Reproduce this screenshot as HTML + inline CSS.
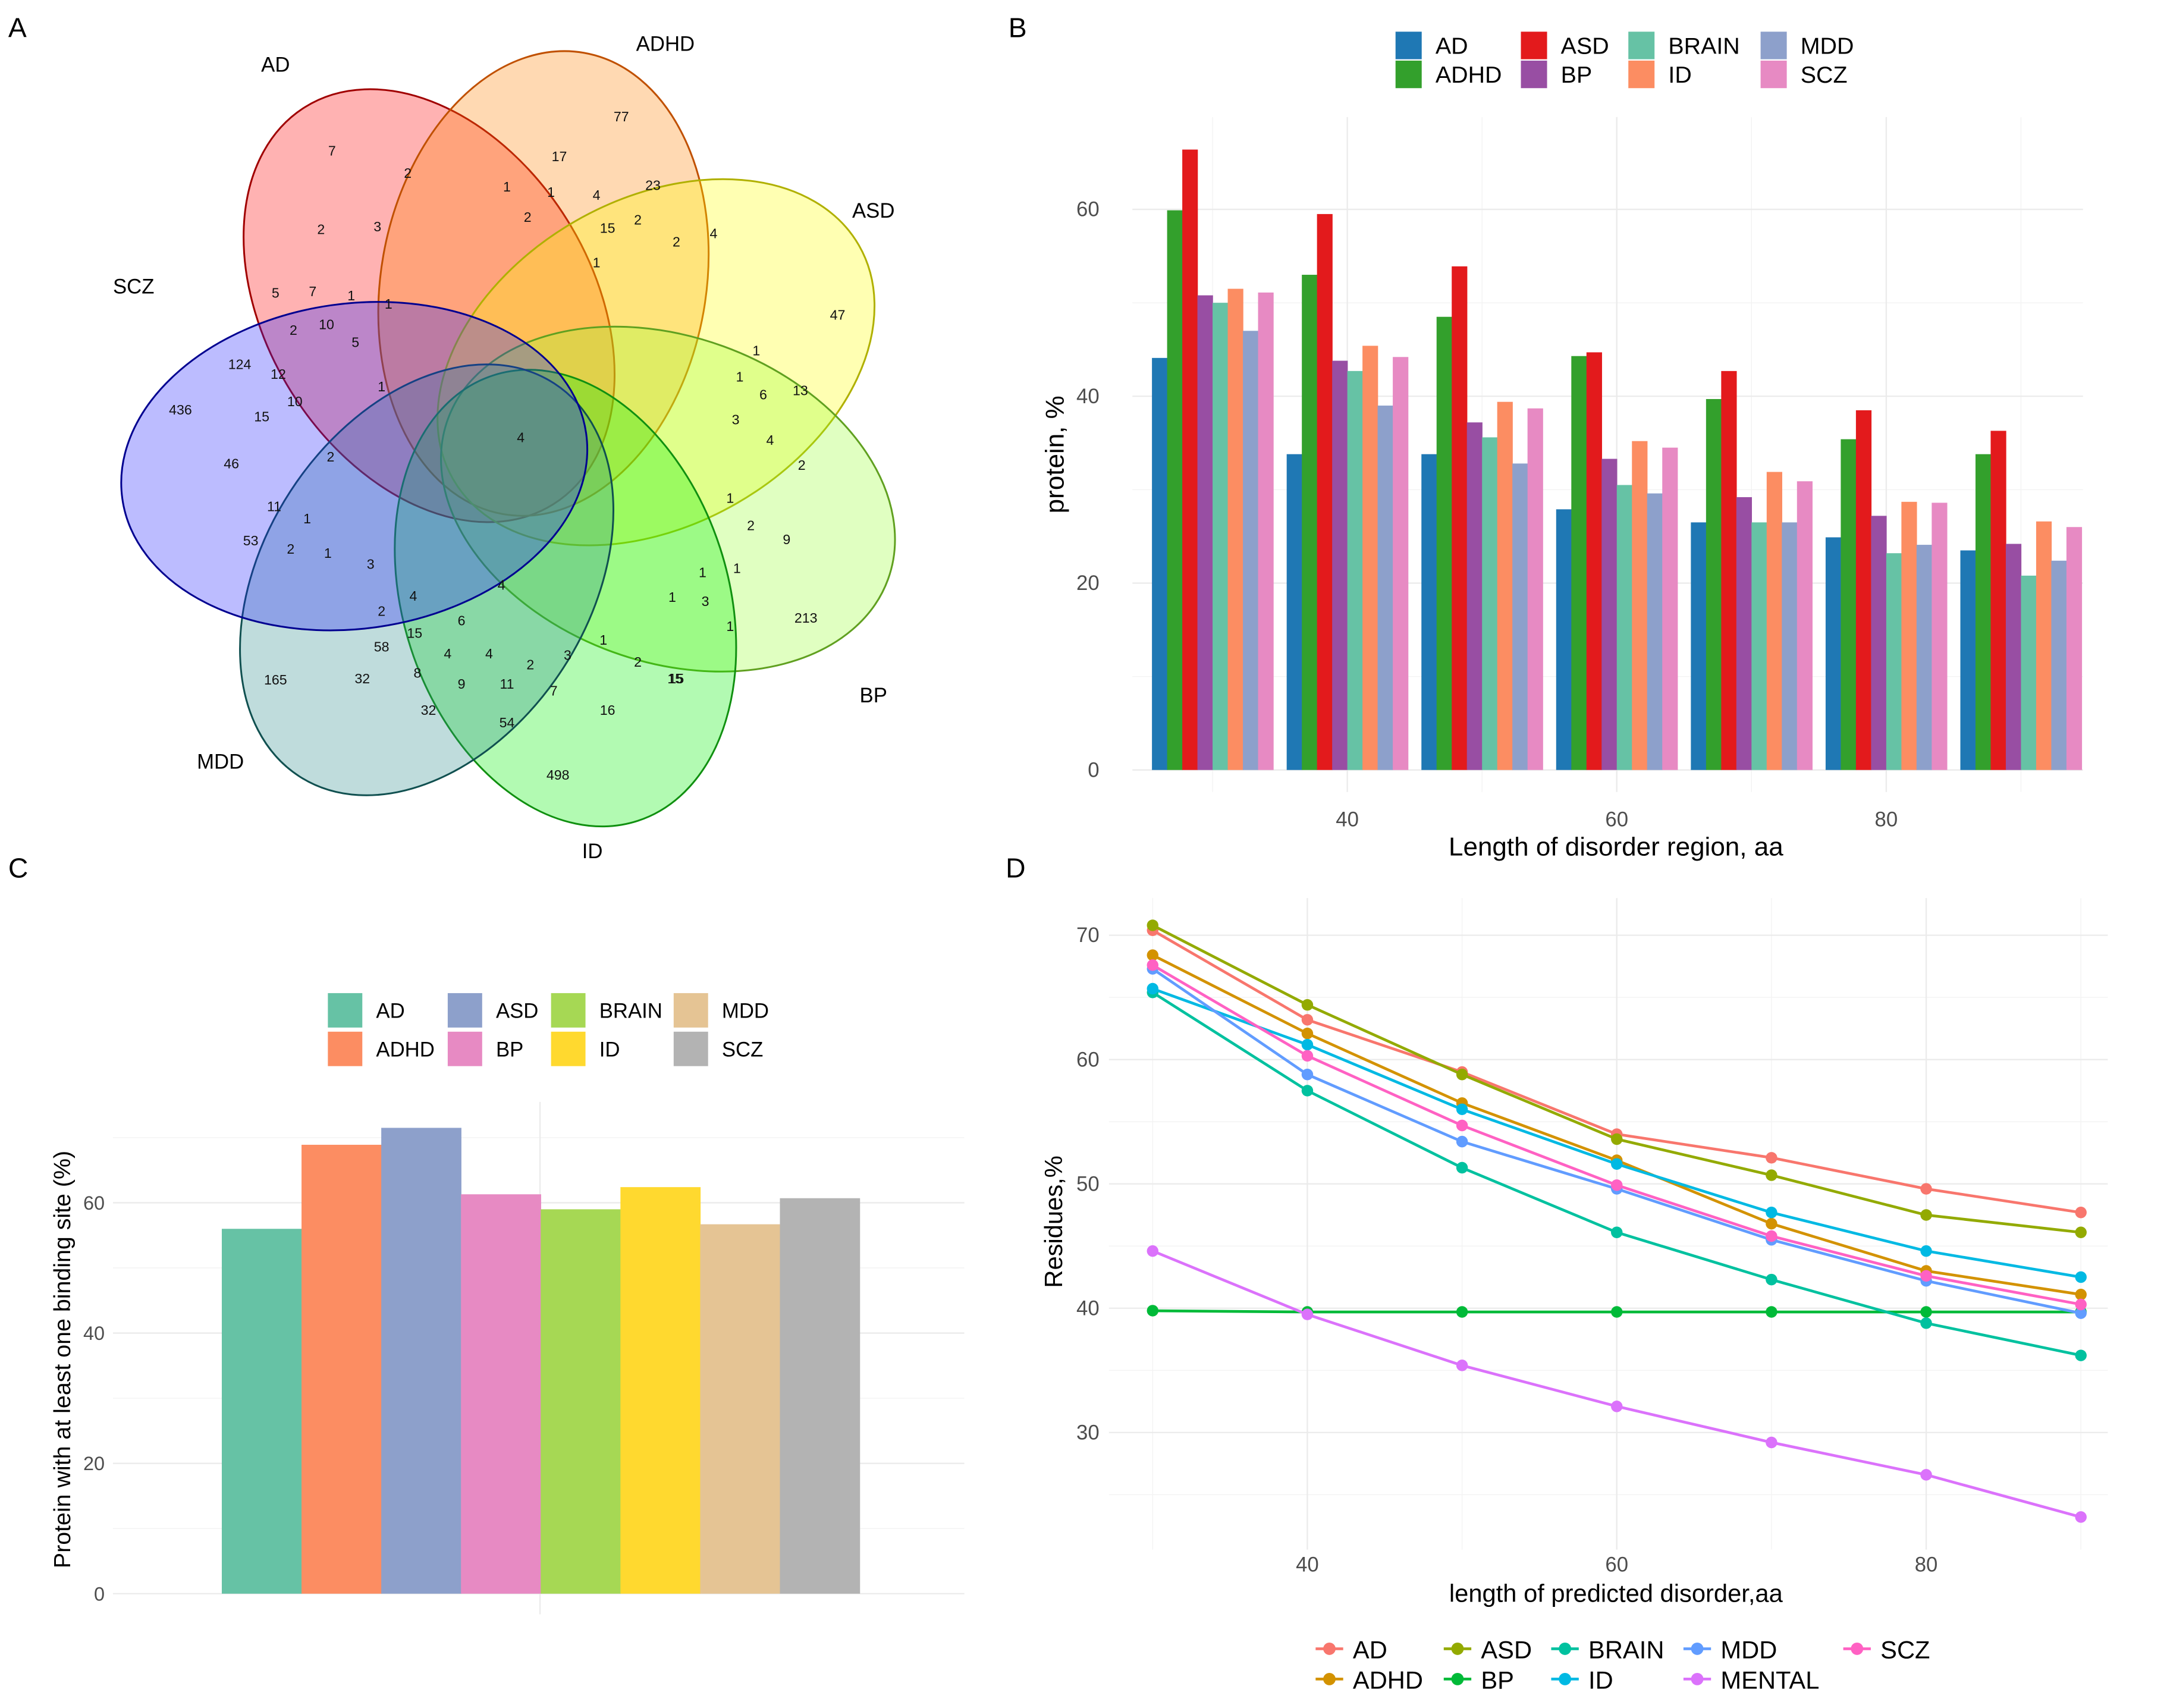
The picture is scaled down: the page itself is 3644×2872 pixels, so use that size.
<!DOCTYPE html>
<html><head><meta charset="utf-8"><style>
html,body{margin:0;padding:0;background:#fff;}
svg{display:block;font-family:"Liberation Sans",sans-serif;}
</style></head><body>
<svg id="fig" width="3644" height="2872" viewBox="0 0 1573 1240" preserveAspectRatio="none" xmlns="http://www.w3.org/2000/svg">
<rect width="1573" height="1240" fill="#fff"/>
<g id="venn"></g>
<g id="pb"></g>
<g id="pc"></g>
<g id="pd"></g>
<text x="6" y="27" font-size="20">A</text>
<text x="732" y="27" font-size="20">B</text>
<text x="6" y="637" font-size="20">C</text>
<text x="730" y="637" font-size="20">D</text>
</svg>
<script>
const NS="http://www.w3.org/2000/svg";
function mk(parent,tag,attrs,txt){const e=document.createElementNS(NS,tag);for(const k in attrs)e.setAttribute(k,attrs[k]);if(txt!==undefined)e.textContent=txt;parent.appendChild(e);return e;}

// ---------- Panel B data ----------
const bCats=[30,40,50,60,70,80,90];
const bSeries=["AD","ADHD","ASD","BP","BRAIN","ID","MDD","SCZ"];
const bAD=[44.1,33.8,33.8,27.9,26.5,24.9,23.5];
const bADHD=[59.9,53.0,48.5,44.3,39.7,35.4,33.8];
const bASD=[66.4,59.5,53.9,44.7,42.7,38.5,36.3];
const bBP=[50.8,43.8,37.2,33.3,29.2,27.2,24.2];
const bBRAIN=[50.0,42.7,35.6,30.5,26.5,23.2,20.8];
const bID=[51.5,45.4,39.4,35.2,31.9,28.7,26.6];
const bMDD=[47.0,39.0,32.8,29.6,26.5,24.1,22.4];
const bSCZ=[51.1,44.2,38.7,34.5,30.9,28.6,26.0];
const bYTicks=[0,20,40,60];
const bXTicks=[40,60,80];

// ---------- Panel C data ----------
const cCats=["AD","ADHD","ASD","BP","BRAIN","ID","MDD","SCZ"];
const cValues=[56.0,68.9,71.5,61.3,59.0,62.4,56.7,60.7];
const cYTicks=[0,20,40,60];

// ---------- Panel D data ----------
const dX=[30,40,50,60,70,80,90];
const dAD=[70.4,63.2,59.0,54.0,52.1,49.6,47.7];
const dADHD=[68.4,62.1,56.5,51.9,46.8,43.0,41.1];
const dASD=[70.8,64.4,58.8,53.6,50.7,47.5,46.1];
const dBP=[39.8,39.7,39.7,39.7,39.7,39.7,39.7];
const dBRAIN=[65.4,57.5,51.3,46.1,42.3,38.8,36.2];
const dID=[65.7,61.2,56.0,51.6,47.7,44.6,42.5];
const dMDD=[67.3,58.8,53.4,49.6,45.5,42.2,39.6];
const dMENTAL=[44.6,39.5,35.4,32.1,29.2,26.6,23.2];
const dSCZ=[67.6,60.3,54.7,49.9,45.8,42.6,40.3];
const dYTicks=[30,40,50,60,70];
const dXTicks=[40,60,80];

// ================= Panel B =================
(function(){
 const g=document.getElementById('pb');
 const bData=[bAD,bADHD,bASD,bBP,bBRAIN,bID,bMDD,bSCZ];
 const cols=["#1f78b4","#33a02c","#e31a1c","#984ea3","#66c2a5","#fc8d62","#8da0cb","#e78ac3"];
 const L=822,R=1512,T=85,B=575;
 const X=v=>978+(v-40)*9.78, Y=v=>559-v*(407/60);
 for(const m of [10,30,50]) mk(g,'line',{x1:L,x2:R,y1:Y(m),y2:Y(m),stroke:'#f3f3f3','stroke-width':0.6});
 for(const m of [30,50,70,90]) mk(g,'line',{x1:X(m),x2:X(m),y1:T,y2:B,stroke:'#f3f3f3','stroke-width':0.6});
 for(const t of bYTicks){mk(g,'line',{x1:L,x2:R,y1:Y(t),y2:Y(t),stroke:'#ebebeb','stroke-width':1});
  const tx=mk(g,'text',{x:798,y:Y(t)+5,'font-size':15,fill:'#4d4d4d','text-anchor':'end'},t);
  
  }
 for(const t of bXTicks){mk(g,'line',{x1:X(t),x2:X(t),y1:T,y2:B,stroke:'#ebebeb','stroke-width':1});
  const tx=mk(g,'text',{x:X(t),y:600,'font-size':15,fill:'#4d4d4d','text-anchor':'middle'},t);
  
  }
 const bw=9*9.78/8;
 bCats.forEach((c,i)=>{bData.forEach((s,j)=>{
  const x0=X(c)-4.5*9.78+j*bw;
  const r=mk(g,'rect',{x:x0,y:Y(s[i]),width:bw+0.3,height:Y(0)-Y(s[i]),fill:cols[j]});
  
  
 });});
 const t1=mk(g,'text',{x:1173,y:621,'font-size':19,fill:'#000','text-anchor':'middle'},'Length of disorder region, aa');
 
 const t2=mk(g,'text',{x:0,y:0,'font-size':19,fill:'#000','text-anchor':'middle',transform:'translate(772,330) rotate(-90)'},'protein, %');
 
 const lx=[1013,1013,1104,1104,1182,1182,1278,1278], ly=[23,44,23,44,23,44,23,44];
 bSeries.forEach((s,j)=>{
  const e=mk(g,'g',{});
  
  
  mk(e,'rect',{x:lx[j],y:ly[j],width:19,height:20,fill:cols[j]});
  mk(e,'text',{x:lx[j]+29,y:ly[j]+16,'font-size':17,fill:'#000'},s);
 });
})();

// ================= Panel C =================
(function(){
 const g=document.getElementById('pc');
 const cols=["#66c2a5","#fc8d62","#8da0cb","#e78ac3","#a6d854","#ffd92f","#e5c494","#b3b3b3"];
 const L=82,R=700,T=800,B=1172;
 const Y=v=>1157-v*4.73;
 for(const m of [10,30,50,70]) mk(g,'line',{x1:L,x2:R,y1:Y(m),y2:Y(m),stroke:'#f3f3f3','stroke-width':0.6});
 for(const t of cYTicks){mk(g,'line',{x1:L,x2:R,y1:Y(t),y2:Y(t),stroke:'#ebebeb','stroke-width':1});
  const tx=mk(g,'text',{x:76,y:Y(t)+5,'font-size':14,fill:'#4d4d4d','text-anchor':'end'},t);
  
  }
 mk(g,'line',{x1:392,x2:392,y1:T,y2:B,stroke:'#ebebeb','stroke-width':1});
 const bw=(624-161)/cCats.length;
 cCats.forEach((c,i)=>{
  const r=mk(g,'rect',{x:161+i*bw,y:Y(cValues[i]),width:bw+0.3,height:Y(0)-Y(cValues[i]),fill:cols[i]});
  
  
 });
 const t2=mk(g,'text',{x:0,y:0,'font-size':17,fill:'#000','text-anchor':'middle',transform:'translate(51,987) rotate(-90)'},'Protein with at least one binding site (%)');
 
 const lx=[238,238,325,325,400,400,489,489], ly=[721,749,721,749,721,749,721,749];
 cCats.forEach((s,j)=>{
  const e=mk(g,'g',{});
  
  
  mk(e,'rect',{x:lx[j],y:ly[j],width:25,height:25,fill:cols[j]});
  mk(e,'text',{x:lx[j]+35,y:ly[j]+18,'font-size':15,fill:'#000'},s);
 });
})();

// ================= Panel D =================
(function(){
 const g=document.getElementById('pd');
 const names=["AD","ADHD","ASD","BP","BRAIN","ID","MDD","MENTAL","SCZ"];
 const data=[dAD,dADHD,dASD,dBP,dBRAIN,dID,dMDD,dMENTAL,dSCZ];
 const cols=["#F8766D","#D39200","#93AA00","#00BA38","#00C19F","#00B9E3","#619CFF","#DB72FB","#FF61C3"];
 const L=805,R=1530,T=652,B=1125;
 const X=v=>949+(v-40)*11.23, Y=v=>679-(v-70)*9.025;
 for(const m of [25,35,45,55,65]) mk(g,'line',{x1:L,x2:R,y1:Y(m),y2:Y(m),stroke:'#f3f3f3','stroke-width':0.6});
 for(const m of [30,50,70,90]) mk(g,'line',{x1:X(m),x2:X(m),y1:T,y2:B,stroke:'#f3f3f3','stroke-width':0.6});
 for(const t of dYTicks){mk(g,'line',{x1:L,x2:R,y1:Y(t),y2:Y(t),stroke:'#ebebeb','stroke-width':1});
  const tx=mk(g,'text',{x:798,y:Y(t)+5,'font-size':15,fill:'#4d4d4d','text-anchor':'end'},t);
  
  }
 for(const t of dXTicks){mk(g,'line',{x1:X(t),x2:X(t),y1:T,y2:B,stroke:'#ebebeb','stroke-width':1});
  const tx=mk(g,'text',{x:X(t),y:1141,'font-size':15,fill:'#4d4d4d','text-anchor':'middle'},t);
  
  }
 data.forEach((s,j)=>{
  const pts=dX.map((x,i)=>X(x).toFixed(1)+','+Y(s[i]).toFixed(1)).join(' ');
  const pl=mk(g,'polyline',{points:pts,fill:'none',stroke:cols[j],'stroke-width':2});
  
  
  dX.forEach((x,i)=>{const c=mk(g,'circle',{cx:X(x),cy:Y(s[i]),r:4.2,fill:cols[j]});
   
   });
 });
 const t1=mk(g,'text',{x:1173,y:1163,'font-size':18,fill:'#000','text-anchor':'middle'},'length of predicted disorder,aa');
 
 const t2=mk(g,'text',{x:0,y:0,'font-size':18,fill:'#000','text-anchor':'middle',transform:'translate(771,887) rotate(-90)'},'Residues,%');
 
 const lx=[965,965,1058,1058,1136,1136,1232,1232,1348], ly=[1197,1219,1197,1219,1197,1219,1197,1219,1197];
 names.forEach((s,j)=>{
  const e=mk(g,'g',{});
  
  
  mk(e,'line',{x1:lx[j]-10,x2:lx[j]+10,y1:ly[j],y2:ly[j],stroke:cols[j],'stroke-width':2});
  mk(e,'circle',{cx:lx[j],cy:ly[j],r:4.5,fill:cols[j]});
  mk(e,'text',{x:lx[j]+17,y:ly[j]+7,'font-size':18,fill:'#000'},s);
 });
})();

// ================= Venn =================
const vSets=["AD","ADHD","ASD","BP","ID","MDD","SCZ"];
const vCounts=[["7",241,110],["77",451,85],["47",608,229],["213",585,449],["498",405,563],["165",200,494],["436",131,298],
 ["2",296,126],["17",406,114],["23",474,135],["4",518,170],["13",581,284],["2",582,338],["9",571,392],["1",530,455],
 ["15",490,493],["16",441,516],["54",368,525],["32",311,516],["32",263,493],["53",182,393],["46",168,337],["124",174,265],
 ["5",200,213],["7",227,212],["10",237,236],["12",202,272],["10",214,292],["15",190,303],["11",199,368],["2",211,399],
 ["1",238,402],["3",269,410],["2",277,444],["58",277,470],["15",301,460],["8",303,489],["9",335,497],["11",368,497],
 ["2",385,483],["7",402,502],["3",412,476],["1",438,465],["2",463,481],["15",491,493],["1",488,434],["3",512,437],
 ["1",510,416],["1",535,413],["2",545,382],["1",530,362],["4",559,320],["3",534,305],["6",554,287],["1",537,274],
 ["1",549,255],["2",491,176],["2",463,160],["4",433,142],["15",441,166],["1",433,191],["1",400,140],["2",383,158],
 ["1",368,136],["3",274,165],["2",233,167],["1",255,215],["1",282,221],["2",213,240],["5",258,249],["1",277,281],
 ["2",240,332],["1",223,377],["4",300,433],["6",335,451],["4",325,475],["4",355,475],["4",364,425],["4",378,318]];
(function(){
 const g=document.getElementById('venn');
 const cx=374,cy=322;
 const ang=[-122,-80,-30,20,72,123,172];
 const fills=["#ff0000","#ff8000","#ffff00","#99ff33","#00ee00","#2a8a8a","#2020ff"];
 const strokes=["#a00000","#c05000","#b0b000","#60a020","#109010","#105050","#000090"];
 const labels=[[200,52],[483,37],[634,158],[634,510],[430,623],[160,558],[97,213]];
 vSets.forEach((s,j)=>{
  const a=ang[j]*Math.PI/180;
  const ex=cx+Math.cos(a)*118, ey=cy+Math.sin(a)*118;
  const e=mk(g,'ellipse',{cx:ex,cy:ey,rx:170,ry:118,fill:fills[j],'fill-opacity':0.3,stroke:strokes[j],'stroke-width':1.3,transform:'rotate('+ang[j]+' '+ex+' '+ey+')'});
  
  
  const t=mk(g,'text',{x:labels[j][0],y:labels[j][1],'font-size':15,fill:'#000','text-anchor':'middle'},s);
  
  
 });
 vCounts.forEach(c=>{
  const t=mk(g,'text',{x:c[1],y:c[2]+3,'font-size':10,fill:'#111','text-anchor':'middle'},c[0]);
  
  
 });
})();
</script>
</body></html>
